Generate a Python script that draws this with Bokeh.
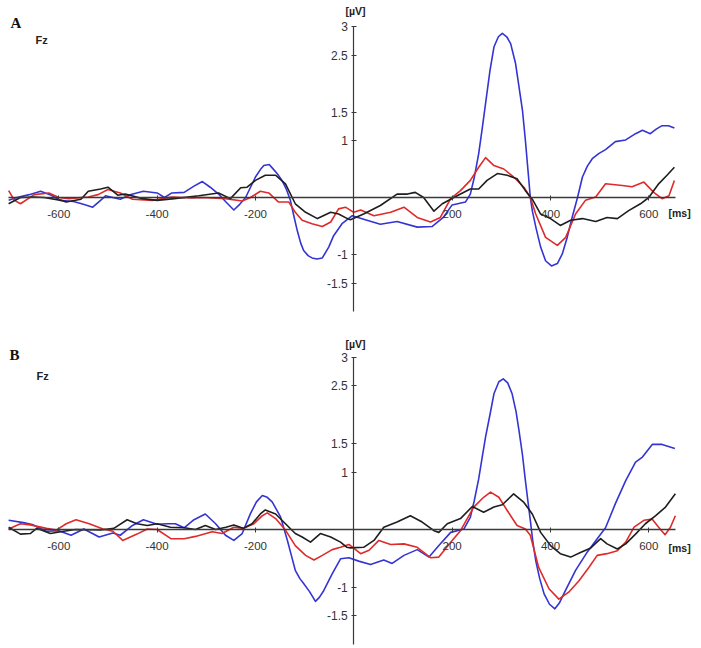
from bokeh.plotting import figure
from bokeh.models import FixedTicker, Label, Range1d, LinearAxis
from bokeh.layouts import column
from bokeh.embed import file_html
from bokeh.resources import INLINE

# ---------------- data ----------------
X_TICKS = [-600, -400, -200, 200, 400, 600]
Y_TICKS = [-1.5, -1, 1, 1.5, 2.5, 3]
Y_TICK_LABELS = {-1.5: "-1.5", -1: "-1", 1: "1", 1.5: "1.5", 2.5: "2.5", 3: "3"}
X_TICK_LABELS = {-600: "-600", -400: "-400", -200: "-200", 200: "200", 400: "400", 600: "600"}
PANEL_LETTERS = ["A", "B"]
CHANNEL = "Fz"
Y_UNIT = "[µV]"
X_UNIT = "[ms]"

# Panel A
a_blue_t = [-702, -685, -660, -637, -615, -597, -570, -550, -531, -515, -505, -490, -475, -455, -428, -400,
            -385, -370, -345, -325, -308, -292, -275, -260, -244, -232, -220, -210, -200, -190, -183, -172,
            -166, -156, -146, -137, -129, -122, -115, -108, -102, -93, -85, -75, -64, -51, -41, -24, -3, 20,
            54, 88, 129, 159, 182, 200, 227, 237, 245, 254, 261, 268, 277, 285, 294, 302, 311, 319, 329, 336,
            343, 349, 354, 359, 363, 371, 380, 390, 402, 414, 424, 434, 444, 455, 465, 475, 485, 498, 512,
            532, 553, 573, 587, 603, 615, 627, 640, 652]
a_blue_v = [-0.05, 0.0, 0.05, 0.11, 0.04, -0.05, -0.07, -0.12, -0.17, -0.05, 0.03, 0.0, -0.03, 0.05, 0.11, 0.08,
            0.0, 0.08, 0.09, 0.2, 0.28, 0.18, 0.06, -0.08, -0.22, -0.12, 0.0, 0.18, 0.36, 0.49, 0.56, 0.58,
            0.52, 0.42, 0.30, 0.14, -0.05, -0.32, -0.58, -0.80, -0.93, -1.02, -1.06, -1.08, -1.06, -0.87,
            -0.67, -0.46, -0.32, -0.38, -0.47, -0.42, -0.52, -0.51, -0.35, -0.13, -0.08, 0.06, 0.35, 0.77,
            1.2, 1.65, 2.23, 2.64, 2.82, 2.88, 2.82, 2.70, 2.35, 1.94, 1.53, 1.0, 0.5, 0.0, -0.23, -0.55,
            -0.87, -1.11, -1.2, -1.16, -0.99, -0.70, -0.35, 0.0, 0.36, 0.55, 0.68, 0.77, 0.84, 0.98, 1.01,
            1.12, 1.18, 1.12, 1.2, 1.26, 1.26, 1.22]

a_red_t = [-702, -690, -678, -662, -650, -620, -600, -580, -540, -520, -500, -475, -450, -410, -370, -330,
           -308, -261, -227, -210, -190, -173, -153, -132, -119, -105, -85, -64, -47, -31, -17, 0, 14, 41,
           75, 102, 129, 156, 176, 197, 217, 237, 254, 268, 285, 305, 325, 346, 359, 370, 390, 414, 431,
           451, 471, 492, 512, 546, 566, 590, 610, 627, 641, 652]
a_red_v = [0.12, -0.05, -0.11, -0.02, 0.05, 0.08, 0.0, -0.02, 0.01, 0.05, 0.14, 0.08, -0.03, -0.05, 0.01,
           -0.01, 0.0, -0.02, -0.06, 0.0, 0.11, 0.08, -0.08, -0.08, -0.26, -0.40, -0.46, -0.51, -0.43, -0.20,
           -0.17, -0.26, -0.22, -0.32, -0.26, -0.17, -0.35, -0.43, -0.35, -0.02, 0.12, 0.30, 0.53, 0.70,
           0.56, 0.50, 0.36, 0.18, 0.0, -0.29, -0.70, -0.84, -0.70, -0.29, -0.05, 0.01, 0.24, 0.21, 0.19,
           0.27, 0.09, -0.02, 0.03, 0.30]

a_black_t = [-702, -678, -650, -630, -595, -585, -555, -540, -515, -500, -480, -465, -430, -400, -365, -315,
             -275, -251, -230, -217, -200, -180, -159, -139, -119, -98, -74, -47, -31, -13, -7, 20, 54, 88,
             109, 125, 142, 163, 180, 197, 217, 237, 254, 271, 292, 312, 332, 349, 363, 380, 400, 420, 441,
             465, 492, 515, 536, 559, 583, 600, 620, 637, 652]
a_black_v = [-0.11, 0.0, 0.01, 0.0, -0.05, -0.08, -0.03, 0.11, 0.15, 0.18, 0.04, 0.06, -0.02, -0.05, -0.02,
             0.03, 0.08, -0.02, 0.17, 0.18, 0.30, 0.39, 0.39, 0.24, -0.11, -0.26, -0.37, -0.26, -0.29, -0.37,
             -0.39, -0.29, -0.14, 0.06, 0.06, 0.09, 0.0, -0.24, -0.11, -0.03, 0.06, 0.15, 0.15, 0.30, 0.42,
             0.39, 0.33, 0.12, -0.03, -0.29, -0.37, -0.49, -0.40, -0.37, -0.42, -0.35, -0.37, -0.23, -0.11,
             0.0, 0.24, 0.39, 0.53]

# Panel B
b_blue_t = [-702, -672, -652, -625, -600, -575, -549, -518, -490, -475, -450, -428, -400, -380, -363, -345,
            -325, -302, -281, -261, -244, -227, -210, -198, -186, -176, -166, -149, -135, -127, -119, -110,
            -102, -90, -78, -70, -61, -44, -27, -10, 10, 34, 61, 78, 102, 129, 153, 173, 197, 224, 237, 245,
            254, 261, 268, 277, 285, 295, 304, 313, 322, 330, 336, 343, 349, 354, 359, 364, 370, 378, 387,
            398, 409, 418, 427, 451, 475, 495, 512, 532, 553, 573, 587, 607, 627, 653]
b_blue_v = [0.16, 0.12, 0.08, -0.03, -0.02, -0.10, 0.01, -0.13, -0.06, -0.1, 0.07, 0.17, 0.09, 0.1, 0.10,
            0.03, 0.17, 0.27, 0.10, -0.10, -0.19, -0.07, 0.28, 0.48, 0.59, 0.56, 0.48, 0.22, -0.19, -0.45,
            -0.71, -0.85, -0.94, -1.08, -1.25, -1.18, -1.06, -0.77, -0.51, -0.49, -0.55, -0.61, -0.53, -0.59,
            -0.45, -0.35, -0.48, -0.28, -0.05, 0.01, 0.21, 0.50, 0.88, 1.25, 1.61, 2.0, 2.36, 2.57, 2.62,
            2.55, 2.36, 2.05, 1.72, 1.3, 0.85, 0.5, 0.16, -0.2, -0.54, -0.85, -1.12, -1.3, -1.38, -1.28,
            -1.12, -0.71, -0.39, -0.16, 0.03, 0.45, 0.85, 1.17, 1.26, 1.48, 1.48, 1.41]

b_red_t = [-702, -678, -658, -625, -605, -585, -565, -538, -510, -490, -470, -441, -420, -400, -372, -345,
           -322, -288, -268, -244, -224, -203, -186, -176, -159, -139, -119, -98, -81, -64, -44, -27, -10,
           14, 31, 51, 75, 102, 129, 156, 173, 197, 217, 244, 264, 278, 295, 312, 332, 349, 359, 376, 397,
           417, 437, 458, 478, 495, 515, 536, 553, 570, 590, 607, 620, 633, 644, 654]
b_red_v = [0.01, 0.10, 0.08, 0.02, -0.01, 0.10, 0.17, 0.10, 0.01, -0.03, -0.19, -0.08, 0.01, 0.0, -0.16,
           -0.16, -0.12, -0.04, -0.07, 0.04, 0.02, 0.10, 0.24, 0.29, 0.19, -0.01, -0.28, -0.45, -0.53,
           -0.45, -0.35, -0.31, -0.26, -0.42, -0.36, -0.19, -0.26, -0.25, -0.31, -0.49, -0.48, -0.22, -0.02,
           0.39, 0.56, 0.65, 0.56, 0.33, 0.07, 0.01, -0.10, -0.66, -1.03, -1.21, -1.09, -0.89, -0.66, -0.45,
           -0.42, -0.37, -0.22, 0.04, 0.16, 0.18, 0.04, -0.09, 0.04, 0.24]

b_black_t = [-702, -678, -658, -645, -617, -590, -566, -515, -488, -461, -441, -420, -400, -373, -345, -322,
             -302, -281, -260, -244, -225, -207, -190, -180, -159, -139, -119, -105, -88, -68, -47, -27, -14,
             -7, 20, 41, 61, 88, 115, 139, 163, 173, 190, 217, 241, 264, 285, 302, 325, 346, 363, 380, 400,
             420, 441, 461, 482, 502, 515, 536, 553, 573, 593, 614, 634, 654]
b_black_v = [0.04, -0.08, -0.07, 0.02, -0.07, -0.03, 0.0, -0.01, 0.02, 0.17, 0.10, 0.07, 0.10, 0.04, 0.03,
             0.0, 0.07, 0.0, 0.04, 0.08, 0.02, 0.10, 0.27, 0.34, 0.27, 0.10, -0.07, -0.13, -0.22, -0.07, -0.13,
             -0.22, -0.31, -0.32, -0.31, -0.19, 0.04, 0.13, 0.24, 0.13, -0.02, -0.05, 0.10, 0.19, 0.40, 0.30,
             0.39, 0.43, 0.62, 0.47, 0.27, -0.05, -0.28, -0.42, -0.48, -0.40, -0.32, -0.16, -0.25, -0.34,
             -0.25, -0.08, 0.10, 0.24, 0.39, 0.62]

# ---------------- styling / geometry ----------------
W, H = 701, 324
PX_PER_MS = 0.4917
ORIGIN_PX = 353.3
BLUE, RED, BLACK = "#3434d4", "#e02a2a", "#1e1e1e"
AXIS_COLOR = "#3a3a3a"
LABEL_COLOR = "#333333"


def make_panel(letter, series, origin_py, px_per_uv, letter_pos, fz_pos, uv_pos, ms_pos):
    x0 = -ORIGIN_PX / PX_PER_MS
    x1 = (W - ORIGIN_PX) / PX_PER_MS
    y1 = origin_py / px_per_uv
    y0 = -(H - origin_py) / px_per_uv

    def dx(px):
        return x0 + px * (x1 - x0) / W

    def dy(py):
        return y1 - py * (y1 - y0) / H

    p = figure(width=W, height=H, x_range=Range1d(x0, x1), y_range=Range1d(y0, y1),
               output_backend="svg", toolbar_location=None, min_border=0,
               x_axis_type=None, y_axis_type=None)
    p.outline_line_color = None
    p.background_fill_color = "white"
    p.border_fill_color = "white"

    xa = LinearAxis(fixed_location=0, ticker=FixedTicker(ticks=X_TICKS),
                    major_label_overrides=X_TICK_LABELS)
    xa.bounds = (-702, 654)
    xa.axis_line_color = AXIS_COLOR
    xa.axis_line_width = 1.5
    xa.major_tick_line_color = AXIS_COLOR
    xa.major_tick_in = 2
    xa.major_tick_out = 3
    xa.minor_tick_line_color = None
    xa.major_label_standoff = 9
    xa.major_label_text_font = "Liberation Sans"
    xa.major_label_text_font_size = "11.5px"
    xa.major_label_text_color = LABEL_COLOR
    p.add_layout(xa, "below")

    ya = LinearAxis(fixed_location=0, ticker=FixedTicker(ticks=Y_TICKS),
                    major_label_overrides=Y_TICK_LABELS)
    ya.bounds = (-2, 3)
    ya.axis_line_color = AXIS_COLOR
    ya.axis_line_width = 1.2
    ya.major_tick_line_color = AXIS_COLOR
    ya.major_tick_in = 3
    ya.major_tick_out = 2
    ya.minor_tick_line_color = None
    ya.major_label_standoff = 4
    ya.major_label_text_font = "Liberation Sans"
    ya.major_label_text_font_size = "12px"
    ya.major_label_text_color = LABEL_COLOR
    p.add_layout(ya, "left")

    for (t, v, c) in series:
        p.line(t, v, line_color=c, line_width=1.6, line_join="round")

    p.add_layout(Label(x=dx(letter_pos[0]), y=dy(letter_pos[1]), text=letter,
                       text_font="Liberation Serif", text_font_style="bold",
                       text_font_size="15px", text_baseline="middle", text_color="#111111"))
    p.add_layout(Label(x=dx(fz_pos[0]), y=dy(fz_pos[1]), text=CHANNEL,
                       text_font="Liberation Sans", text_font_style="bold",
                       text_font_size="11px", text_baseline="middle", text_color="#222222"))
    p.add_layout(Label(x=dx(uv_pos[0]), y=dy(uv_pos[1]), text=Y_UNIT,
                       text_font="Liberation Sans", text_font_style="bold",
                       text_font_size="10.5px", text_baseline="middle", text_align="center",
                       text_color="#222222"))
    p.add_layout(Label(x=dx(ms_pos[0]), y=dy(ms_pos[1]), text=X_UNIT,
                       text_font="Liberation Sans", text_font_style="bold",
                       text_font_size="10.5px", text_baseline="middle", text_color="#222222"))
    return p


pA = make_panel(PANEL_LETTERS[0],
                [(a_blue_t, a_blue_v, BLUE), (a_red_t, a_red_v, RED), (a_black_t, a_black_v, BLACK)],
                origin_py=197, px_per_uv=57.0,
                letter_pos=(10, 22), fz_pos=(35, 39), uv_pos=(355, 10), ms_pos=(668, 212))
pB = make_panel(PANEL_LETTERS[1],
                [(b_blue_t, b_blue_v, BLUE), (b_red_t, b_red_v, RED), (b_black_t, b_black_v, BLACK)],
                origin_py=205, px_per_uv=57.5,
                letter_pos=(9, 30), fz_pos=(36, 51), uv_pos=(355, 19), ms_pos=(668, 223))

layout = column(pA, pB, spacing=0)
open("out.html", "w").write(file_html(layout, INLINE))
